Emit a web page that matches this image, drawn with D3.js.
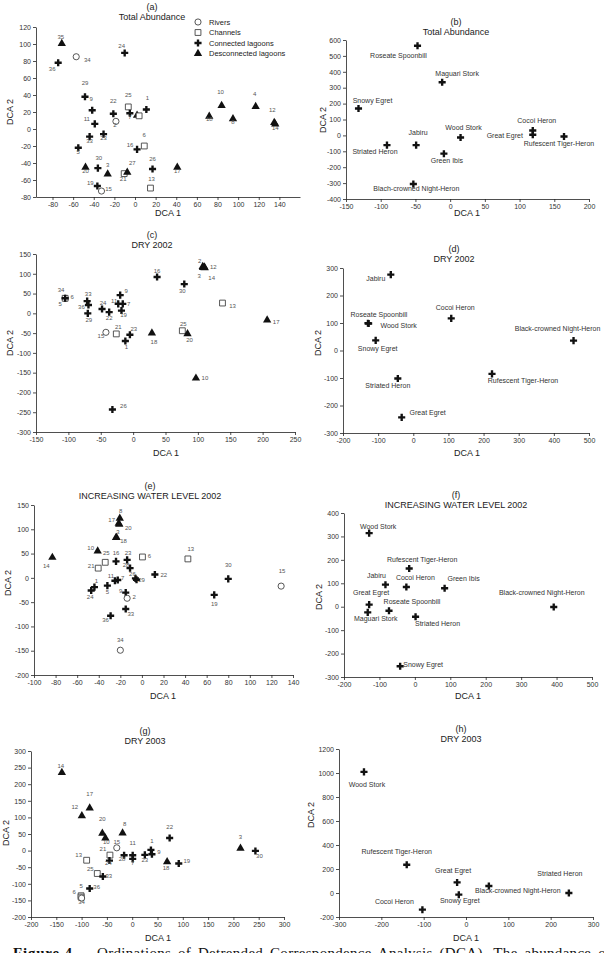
<!DOCTYPE html>
<html>
<head>
<meta charset="utf-8">
<script src="https://cdn.jsdelivr.net/npm/d3@7"></script>
<style>
body { margin: 0; background: #fff; }
svg { display: block; font-family: "Liberation Sans", Arial, sans-serif; }
.axis .domain, .axis line { stroke: #222; stroke-width: 0.8; }
.axis text { font-size: 7px; fill: #333; font-family: "Liberation Sans", Arial, sans-serif; }
</style>
</head>
<body>
<svg id="fig" width="604" height="953"></svg>
<script>
// site scores: [site, habitat, DCA1, DCA2]
// R = river, C = channel, L = connected lagoon, D = disconnected lagoon
var sitesA = [
  [35, "D", -71, 100.5], [34, "R", -57, 85], [36, "L", -74.5, 78], [24, "L", -10, 89.5],
  [29, "L", -48.5, 38], [9, "L", -41.5, 22], [22, "L", -21, 18], [25, "C", -6.5, 26],
  [7, "L", -5, 18.5], [1, "L", 11, 23], ["", "D", 2, 16], ["", "C", 4, 15.5],
  [2, "R", -18.5, 9], [11, "L", -39, 6], [33, "L", -44, -9], [23, "L", -30.5, -6],
  [6, "C", 9, -20], [16, "L", 2, -24], [5, "L", -55, -22], [20, "D", -48, -45],
  [30, "L", -36, -46], [3, "D", -26.5, -53], [21, "C", -10.5, -52.5], [27, "D", -7.5, -51],
  [26, "L", 17, -47], [17, "D", 41, -45], [13, "C", 15, -69.5], [19, "L", -36.5, -67],
  [15, "R", -32.5, -73], [18, "D", 72, 15], [10, "D", 84, 27.5], [8, "D", 95, 12],
  [4, "D", 117, 26.5], [12, "D", 135, 7.5], [14, "D", 136, 5.7]
];
var sitesC = [
  [34, "R", -105, 38], [6, "C", -105, 38], [5, "L", -105, 38], [33, "L", -71, 31],
  [36, "L", -69, 21], [29, "L", -70, 0], [24, "L", -48, 11], [22, "L", -37, 3],
  [9, "L", -20, 46], [11, "L", -23, 24], [7, "L", -16, 24], [19, "L", -18, 7],
  [15, "R", -42, -48], [21, "C", -26, -52], [23, "L", -5, -54], [1, "L", -12, -70],
  [18, "D", 29, -50], [25, "C", 76, -44], [20, "D", 84, -52], [16, "L", 37, 92],
  [30, "L", 79, 74], [2, "D", 107.5, 118], [12, "D", 110, 117], [3, "D", 108, 115.5],
  [14, "D", 110.5, 115], [13, "C", 138, 26], [17, "D", 207, -17], [10, "D", 97, -164],
  [26, "L", -32, -243]
];
var sitesE = [
  [8, "D", -20.5, 122.5], [17, "D", -21.5, 112], [20, "D", -21, 110], [3, "D", -24, 83],
  [18, "D", -23.5, 83], [10, "D", -41, 55], [14, "D", -83, 42], [25, "C", -34, 32],
  [21, "C", -40.5, 20], [16, "L", -24, 34], [23, "L", -13.7, 37], [6, "C", 0.5, 43],
  [28, "L", -11, 20], [26, "L", -6, -1], [29, "L", -5, -4], [22, "L", 12, 7],
  [11, "L", -25, -6], [7, "L", -22.4, -4.4], [1, "L", -44, -19], [24, "L", -47, -26],
  [5, "L", -32, -16], [9, "L", -15, -30.5], [2, "R", -13.7, -42], [33, "L", -15, -64],
  [36, "L", -29, -78], [34, "R", -20, -149], [13, "C", 42.6, 39], [30, "L", 80, -2],
  [19, "L", 67, -35], [15, "R", 129, -17]
];
var sitesG = [
  [14, "D", -139, 235], [17, "D", -84, 128], [12, "D", -99.5, 105], [20, "D", -59, 52],
  [10, "D", -53, 38], [8, "D", -19, 53], [15, "R", -30.5, 8.4], [21, "C", -44, -13.6],
  [24, "L", -45, -30], [28, "L", -16, -14], [11, "L", 1, -14], [7, "L", 1, -25],
  [23, "L", 25, -13], [1, "L", 37, 2], [9, "L", 39, -11], [22, "L", 74, 38],
  [18, "D", 69, -34], [19, "L", 92, -39], [3, "D", 214, 7], [30, "L", 243.5, -1],
  [13, "C", -90, -29], [25, "C", -69, -69], [33, "L", -58, -78], [36, "L", -84, -114],
  [5, "C", -101, -136], [6, "C", -101, -140], [34, "R", -100, -143]
];

// species scores: [species, DCA1, DCA2]
var speciesB = [
  ["Roseate Spoonbill", -47, 564], ["Maguari Stork", -11.5, 334], ["Snowy Egret", -132, 169],
  ["Cocoi Heron", 119, 31], ["Great Egret", 119, 4], ["Wood Stork", 15, -13],
  ["Rufescent Tiger-Heron", 164, -7], ["Striated Heron", -91, -61], ["Jabiru", -49, -61],
  ["Green Ibis", -9, -115], ["Blach-crowned Night-Heron", -53, -306]
];
var speciesD = [
  ["Jabiru", -64, 276], ["Cocoi Heron", 108, 117], ["Roseate Spoonbill", -129, 99],
  ["Wood Stork", -127, 98], ["Snowy Egret", -107, 37], ["Black-crowned Night-Heron", 456, 36],
  ["Rufescent Tiger-Heron", 224, -85], ["Striated Heron", -44, -102], ["Great Egret", -33, -243]
];
var speciesF = [
  ["Wood Stork", -129, 314], ["Rufescent Tiger-Heron", -16, 163], ["Jabiru", -83, 94],
  ["Cocoi Heron", -24, 84], ["Green Ibis", 84, 79], ["Great Egret", -129, 9],
  ["Black-crowned Night-Heron", 392, -1], ["Maguari Stork", -133, -24],
  ["Roseate Spoonbill", -73, -17], ["Striated Heron", 2, -43], ["Snowy Egret", -41.5, -254]
];
var speciesH = [
  ["Wood Stork", -241, 1009], ["Rufescent Tiger-Heron", -140, 235], ["Great Egret", -21, 88],
  ["Black-crowned Night-Heron", 54, 58], ["Snowy Egret", -17, -14], ["Striated Heron", 243, 0],
  ["Cocoi Heron", -103, -139]
];

// tick labels
var ticksAx = [-80, -60, -40, -20, 0, 20, 40, 60, 80, 100, 120, 140];
var ticksAy = [-80, -60, -40, -20, 0, 20, 40, 60, 80, 100, 120];
var ticksBx = [-150, -100, -50, 0, 50, 100, 150, 200];
var ticksBy = [-400, -300, -200, -100, 0, 100, 200, 300, 400, 500, 600];
var ticksCx = [-150, -100, -50, 0, 50, 100, 150, 200, 250];
var ticksCy = [-300, -250, -200, -150, -100, -50, 0, 50, 100, 150];
var ticksDx = [-200, -100, 0, 100, 200, 300, 400, 500];
var ticksDy = [-300, -200, -100, 0, 100, 200, 300];
var ticksEx = [-100, -80, -60, -40, -20, 0, 20, 40, 60, 80, 100, 120, 140];
var ticksEy = [-200, -150, -100, -50, 0, 50, 100, 150];
var ticksFx = [-200, -100, 0, 100, 200, 300, 400, 500];
var ticksFy = [-300, -200, -100, 0, 100, 200, 300, 400];
var ticksGx = [-200, -150, -100, -50, 0, 50, 100, 150, 200, 250, 300];
var ticksGy = [-200, -150, -100, -50, 0, 50, 100, 150, 200, 250, 300];
var ticksHx = [-300, -200, -100, 0, 100, 200, 300];
var ticksHy = [-200, 0, 200, 400, 600, 800, 1000, 1200];

var legendNames = ["Rivers", "Channels", "Connected lagoons", "Desconnected lagoons"];
var legendTypes = ["R", "C", "L", "D"];

// label placement (offset of label centre from its marker, px)
var nudgeA = {35:[-1,-7],34:[11,3],36:[-6,6],24:[-3,-7],29:[0,-14],9:[-1,-11],22:[0,-13],25:[0,-12],
  7:[0,4],1:[1,-12],2:[-1,4],11:[-8,-5],33:[0,4],23:[0,4],6:[0,-11],16:[-7,-5],5:[0,4],20:[0,4],
  30:[1,-10],3:[0,-9],21:[-1,5],27:[5,-9],26:[0,-10],17:[0,4],13:[1,-9],19:[-7,-3],15:[7,-2],
  18:[0,3],10:[-1,-14],8:[0,3],4:[-1,-13],12:[-2,-13],14:[0,4]};
var nudgeC = {34:[-4,-8],6:[7,-1],5:[-5,6],33:[1,-7],36:[-7,2],29:[1,7],24:[1,-6],22:[0,6],9:[6,-4],
  11:[-4,-3],7:[6,0],19:[2,4],15:[-5,4],21:[2,-7],23:[4,-6],1:[1,6],18:[2,9],25:[1,-7],20:[2,6],
  16:[0,-6],30:[-2,7],2:[-3,-6],12:[9,0],3:[-4,8],14:[7,10],13:[10,3],17:[9,2],10:[9,0],26:[11,-4]};
var nudgeE = {8:[1,-7],17:[-7,-4],20:[9,3],3:[2,-6],18:[7,3],10:[-7,-3],14:[-6,8],25:[1,-9],21:[-7,-2],
  16:[0,-8],23:[1,-7],6:[7,-1],28:[-4,-3],26:[-3,-4],29:[5,0],22:[9,0],11:[-4,-5],7:[5,-2],1:[2,-6],
  24:[-1,6],5:[0,6],9:[-5,-2],2:[7,-1],33:[5,5],36:[-5,4],34:[0,-10],13:[3,-10],30:[0,-14],19:[0,9],15:[1,-15]};
var nudgeG = {14:[-1,-7],17:[0,-14],12:[-7,-9],20:[0,-14],10:[1,4],8:[2,-9],15:[0,-6],21:[-7,-6],24:[-1,2],
  28:[-2,4],11:[0,-12],7:[0,4],23:[0,5],1:[1,-9],9:[7,-2],22:[0,-11],18:[-1,6],19:[8,-3],3:[0,-11],
  30:[4,5],13:[-8,-5],25:[-7,-5],33:[6,-1],36:[7,-2],5:[0,-10],6:[-7,-5],34:[0,4]};
var nudgeB = {"Roseate Spoonbill":[-19,10],"Maguari Stork":[15,-9],"Snowy Egret":[14,-8],"Cocoi Heron":[4,-10],
  "Great Egret":[-28,1],"Wood Stork":[3,-10],"Rufescent Tiger-Heron":[-5,7],"Striated Heron":[-12,6],
  "Jabiru":[2,-13],"Green Ibis":[3,7],"Blach-crowned Night-Heron":[3,4]};
var nudgeD = {"Jabiru":[-15,4],"Cocoi Heron":[4,-11],"Roseate Spoonbill":[11,-9],"Wood Stork":[30,2],
  "Snowy Egret":[2,8],"Black-crowned Night-Heron":[-16,-12],"Rufescent Tiger-Heron":[31,7],
  "Striated Heron":[-10,7],"Great Egret":[26,-5]};
var nudgeF = {"Wood Stork":[9,-7],"Rufescent Tiger-Heron":[13,-9],"Jabiru":[-9,-9],"Cocoi Heron":[9,-9],
  "Green Ibis":[19,-10],"Great Egret":[2,-12],"Black-crowned Night-Heron":[-12,-14],"Maguari Stork":[8,6],
  "Roseate Spoonbill":[23,-9],"Striated Heron":[22,7],"Snowy Egret":[23,-2]};
var nudgeH = {"Wood Stork":[3,13],"Rufescent Tiger-Heron":[-10,-13],"Great Egret":[-4,-12],
  "Black-crowned Night-Heron":[29,5],"Snowy Egret":[1,6],"Striated Heron":[-9,-19],"Cocoi Heron":[-28,-8]};

var svg = d3.select("#fig");

var panels = [
  {tag: "(a)", title: "Total Abundance", box: [36, 27, 300, 197], xd: [-96, 160], yd: [-80, 120],
   xt: ticksAx, yt: ticksAy, tx: 152, ty: 7, y2: [10, 112], x1: [168, 213], pts: sitesA, nudge: nudgeA},
  {tag: "(b)", title: "Total Abundance", box: [346, 40, 589, 199], xd: [-150, 200], yd: [-400, 600],
   xt: ticksBx, yt: ticksBy, tx: 456, ty: 22, y2: [323, 120], x1: [467, 213], sp: speciesB, nudge: nudgeB},
  {tag: "(c)", title: "DRY 2002", box: [36, 254, 295, 432], xd: [-150, 250], yd: [-300, 150],
   xt: ticksCx, yt: ticksCy, tx: 152, ty: 235, y2: [10, 343], x1: [166, 453], pts: sitesC, nudge: nudgeC},
  {tag: "(d)", title: "DRY 2002", box: [343, 268, 589, 433], xd: [-200, 500], yd: [-300, 300],
   xt: ticksDx, yt: ticksDy, tx: 454, ty: 249, y2: [318, 343], x1: [467, 453], sp: speciesD, nudge: nudgeD},
  {tag: "(e)", title: "INCREASING WATER LEVEL 2002", box: [34, 505, 293, 675], xd: [-100, 140], yd: [-200, 150],
   xt: ticksEx, yt: ticksEy, tx: 150, ty: 486, y2: [8, 583], x1: [163, 696], pts: sitesE, nudge: nudgeE},
  {tag: "(f)", title: "INCREASING WATER LEVEL 2002", box: [344, 513, 592, 677], xd: [-200, 500], yd: [-300, 400],
   xt: ticksFx, yt: ticksFy, tx: 456, ty: 495, y2: [319, 597], x1: [468, 696], sp: speciesF, nudge: nudgeF},
  {tag: "(g)", title: "DRY 2003", box: [31, 751, 284, 917], xd: [-200, 300], yd: [-200, 300],
   xt: ticksGx, yt: ticksGy, tx: 145, ty: 731, y2: [6, 833], x1: [158, 938], pts: sitesG, nudge: nudgeG},
  {tag: "(h)", title: "DRY 2003", box: [339, 749, 593, 917], xd: [-300, 300], yd: [-200, 1200],
   xt: ticksHx, yt: ticksHy, tx: 461, ty: 729, y2: [311, 815], x1: [466, 938], sp: speciesH, nudge: nudgeH}
];

var shapes = {
  R: d3.symbol().type(d3.symbolCircle).size(30)(),
  C: d3.symbol().type(d3.symbolSquare).size(34)(),
  L: d3.symbol().type(d3.symbolCross).size(28)(),
  D: d3.symbol().type(d3.symbolTriangle).size(30)()
};

function marker(sel, type) {
  sel.attr("d", shapes[type]);
  if (type == "R" || type == "C") {
    sel.attr("fill", "#fff").attr("stroke", "#444").attr("stroke-width", 0.9);
  } else {
    sel.attr("fill", "#111");
  }
}

function drawPanel(p) {
  var g = svg.append("g");
  var x = d3.scaleLinear().domain(p.xd).range([p.box[0], p.box[2]]);
  var y = d3.scaleLinear().domain(p.yd).range([p.box[3], p.box[1]]);
  var fmt = function (d) { return String(d); };

  g.append("g").attr("class", "axis")
    .attr("transform", "translate(0," + p.box[3] + ")")
    .call(d3.axisBottom(x).tickValues(p.xt).tickFormat(fmt).tickSize(3).tickSizeOuter(0).tickPadding(2));
  g.append("g").attr("class", "axis")
    .attr("transform", "translate(" + p.box[0] + ",0)")
    .call(d3.axisLeft(y).tickValues(p.yt).tickFormat(fmt).tickSize(3).tickSizeOuter(0).tickPadding(2));

  // titles
  g.append("text").attr("x", p.tx).attr("y", p.ty).attr("dy", "0.35em").attr("text-anchor", "middle")
    .style("font-size", "9px").attr("fill", "#222").text(p.tag);
  g.append("text").attr("x", p.tx).attr("y", p.ty + 10).attr("dy", "0.35em").attr("text-anchor", "middle")
    .style("font-size", "9px").attr("fill", "#222").text(p.title);
  g.append("text").attr("x", p.x1[0]).attr("y", p.x1[1]).attr("dy", "0.35em").attr("text-anchor", "middle")
    .style("font-size", "9px").attr("fill", "#222").text("DCA 1");
  g.append("text").attr("transform", "translate(" + p.y2[0] + "," + p.y2[1] + ") rotate(-90)")
    .attr("dy", "0.35em").attr("text-anchor", "middle")
    .style("font-size", "9px").attr("fill", "#222").text("DCA 2");

  if (p.pts) {
    g.selectAll("path.pt").data(p.pts).enter().append("path").attr("class", "pt")
      .attr("transform", function (d) { return "translate(" + x(d[2]) + "," + y(d[3]) + ")"; })
      .each(function (d) { marker(d3.select(this), d[1]); });
    g.selectAll("text.lab").data(p.pts.filter(function (d) { return d[0] !== ""; })).enter()
      .append("text").attr("class", "lab")
      .attr("x", function (d) { return x(d[2]) + (p.nudge[d[0]] || [0, -8])[0]; })
      .attr("y", function (d) { return y(d[3]) + (p.nudge[d[0]] || [0, -8])[1]; })
      .attr("dy", "0.35em").attr("text-anchor", "middle")
      .style("font-size", "6px").attr("fill", "#555")
      .text(function (d) { return d[0]; });
  } else {
    g.selectAll("path.pt").data(p.sp).enter().append("path").attr("class", "pt")
      .attr("transform", function (d) { return "translate(" + x(d[1]) + "," + y(d[2]) + ")"; })
      .each(function () { marker(d3.select(this), "L"); });
    g.selectAll("text.lab").data(p.sp).enter().append("text").attr("class", "lab")
      .attr("x", function (d) { return x(d[1]) + p.nudge[d[0]][0]; })
      .attr("y", function (d) { return y(d[2]) + p.nudge[d[0]][1]; })
      .attr("dy", "0.35em").attr("text-anchor", "middle")
      .style("font-size", "7px").attr("fill", "#333")
      .text(function (d) { return d[0]; });
  }
}

panels.forEach(drawPanel);

// legend of panel (a)
var leg = svg.append("g").selectAll("g").data(legendNames).enter().append("g")
  .attr("transform", function (d, i) { return "translate(198," + (22 + i * 10.5) + ")"; });
leg.append("path").each(function (d, i) { marker(d3.select(this), legendTypes[i]); });
leg.append("text").attr("x", 11).attr("dy", "0.35em").style("font-size", "7.5px").attr("fill", "#222")
  .text(function (d) { return d; });

// caption, cut by the bottom edge as in the page it comes from
var capFont = "font-family:'Liberation Serif','Times New Roman',serif;font-size:15px;fill:#111;letter-spacing:0.3px";
svg.append("text").attr("x", 13).attr("y", 958).attr("style", capFont + ";font-weight:bold;letter-spacing:0.8px").text("Figure 4.");
var cap = svg.append("text").attr("x", 97).attr("y", 958).attr("style", capFont)
  .text("Ordinations of Detrended Correspondence Analysis (DCA). The abundance o");
var natural = cap.node().getComputedTextLength();
cap.style("word-spacing", ((606 - 97 - natural) / 8) + "px");
</script>
</body>
</html>
